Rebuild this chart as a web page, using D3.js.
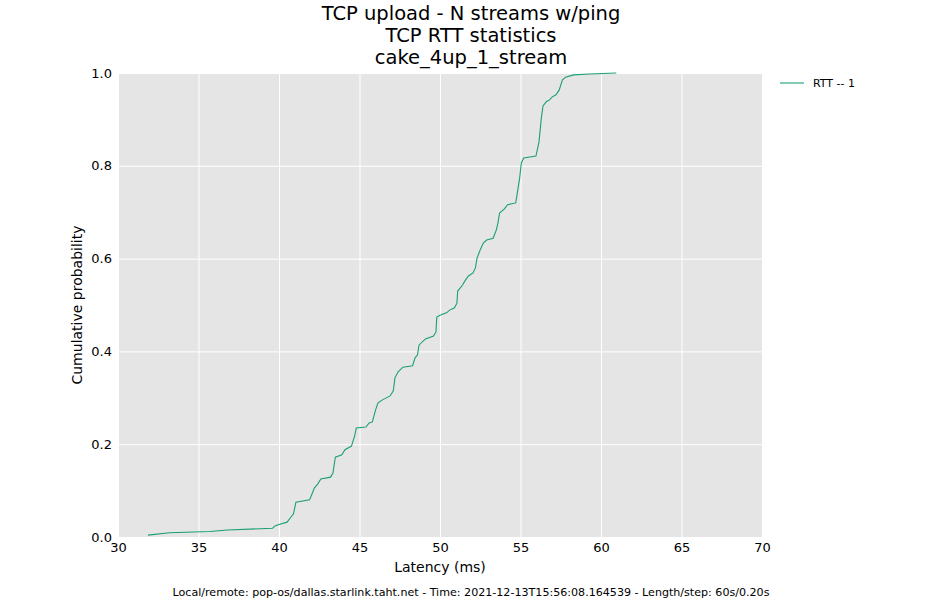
<!DOCTYPE html>
<html><head><meta charset="utf-8">
<script src="https://cdn.jsdelivr.net/npm/d3@7"></script>
<style>body{margin:0;background:#fff}svg{display:block}text{font-family:"DejaVu Sans",sans-serif}</style>
</head><body>
<script>
const titleLines = ["TCP upload - N streams w/ping", "TCP RTT statistics", "cake_4up_1_stream"];
const footer = "Local/remote: pop-os/dallas.starlink.taht.net - Time: 2021-12-13T15:56:08.164539 - Length/step: 60s/0.20s";
const seriesName = "RTT -- 1";
const xTicks = [30, 35, 40, 45, 50, 55, 60, 65, 70];
const yTicks = [0.0, 0.2, 0.4, 0.6, 0.8, 1.0];
const latency = [31.86,33.2,35.7,36.8,39.6,39.75,40.0,40.5,40.7,40.9,41.05,41.9,42.1,42.2,42.4,42.6,43.2,43.35,43.5,43.9,44.1,44.5,44.7,44.8,45.4,45.6,45.8,46.0,46.15,46.4,46.9,47.1,47.2,47.4,47.7,48.3,48.45,48.6,48.7,49.1,49.6,49.75,49.8,50.0,50.4,50.6,50.9,51.05,51.1,51.4,51.55,51.75,52.05,52.2,52.3,52.5,52.7,52.9,53.3,53.5,53.6,53.7,54.0,54.2,54.7,54.8,54.95,55.05,55.2,55.96,56.15,56.3,56.4,56.6,56.8,56.96,57.2,57.4,57.6,57.8,58.3,59.3,60.95];
const prob = [0.004,0.009,0.012,0.015,0.019,0.024,0.027,0.032,0.041,0.05,0.075,0.08,0.097,0.106,0.114,0.125,0.129,0.138,0.172,0.177,0.188,0.196,0.218,0.235,0.237,0.246,0.248,0.274,0.289,0.295,0.304,0.315,0.343,0.356,0.366,0.369,0.386,0.392,0.414,0.427,0.433,0.442,0.474,0.478,0.483,0.489,0.494,0.504,0.530,0.543,0.552,0.562,0.569,0.580,0.601,0.619,0.634,0.640,0.644,0.662,0.677,0.698,0.707,0.716,0.720,0.741,0.774,0.806,0.817,0.821,0.852,0.905,0.929,0.938,0.942,0.948,0.953,0.963,0.985,0.991,0.996,0.998,1.0];

const W = 943, H = 603;
const m = {left:118, right:762, top:73, bottom:537};
const svg = d3.select("body").append("svg").attr("width", W).attr("height", H);
const x = d3.scaleLinear().domain([30,70]).range([m.left, m.right]);
const y = d3.scaleLinear().domain([0,1]).range([m.bottom, m.top]);

svg.append("rect").attr("x", m.left).attr("y", m.top).attr("width", m.right-m.left).attr("height", m.bottom-m.top).attr("fill", "#e5e5e5");

const gx = svg.append("g").attr("transform", `translate(0,${m.bottom})`)
  .call(d3.axisBottom(x).tickValues(xTicks).tickFormat(d3.format("d")).tickSize(-(m.bottom-m.top)).tickPadding(6));
const gy = svg.append("g").attr("transform", `translate(${m.left},0)`)
  .call(d3.axisLeft(y).tickValues(yTicks).tickFormat(d3.format(".1f")).tickSize(-(m.right-m.left)).tickPadding(6));
[gx, gy].forEach(g => {
  g.select(".domain").remove();
  g.selectAll(".tick line").attr("stroke", "#fff").attr("stroke-width", 1);
  g.selectAll(".tick text").attr("fill", "#000").style("font-size", "13px").style("font-family", "DejaVu Sans");
});
gx.selectAll(".tick text").attr("dy", "0.71em");

const line = d3.line().x((d,i) => x(latency[i])).y((d,i) => y(prob[i]));
svg.append("path").datum(prob).attr("d", line).attr("fill", "none").attr("stroke", "#1b9e77").attr("stroke-width", 1.1);

titleLines.forEach((t,i) => {
  svg.append("text").attr("x", 471).attr("y", 20 + i*22).attr("text-anchor", "middle").style("font-size", "19.5px").text(t);
});
svg.append("text").attr("x", (m.left+m.right)/2).attr("y", 572).attr("text-anchor", "middle").style("font-size", "14px").text("Latency (ms)");
svg.append("text").attr("transform", `translate(82,${(m.top+m.bottom)/2}) rotate(-90)`).attr("text-anchor", "middle").style("font-size", "14px").text("Cumulative probability");
svg.append("text").attr("x", 471).attr("y", 596).attr("text-anchor", "middle").style("font-size", "11.1px").text(footer);

svg.append("line").attr("x1", 780).attr("x2", 804).attr("y1", 83).attr("y2", 83).attr("stroke", "#1b9e77").attr("stroke-width", 1.1);
svg.append("text").attr("x", 813).attr("y", 87).style("font-size", "11px").text(seriesName);
</script>
</body></html>
